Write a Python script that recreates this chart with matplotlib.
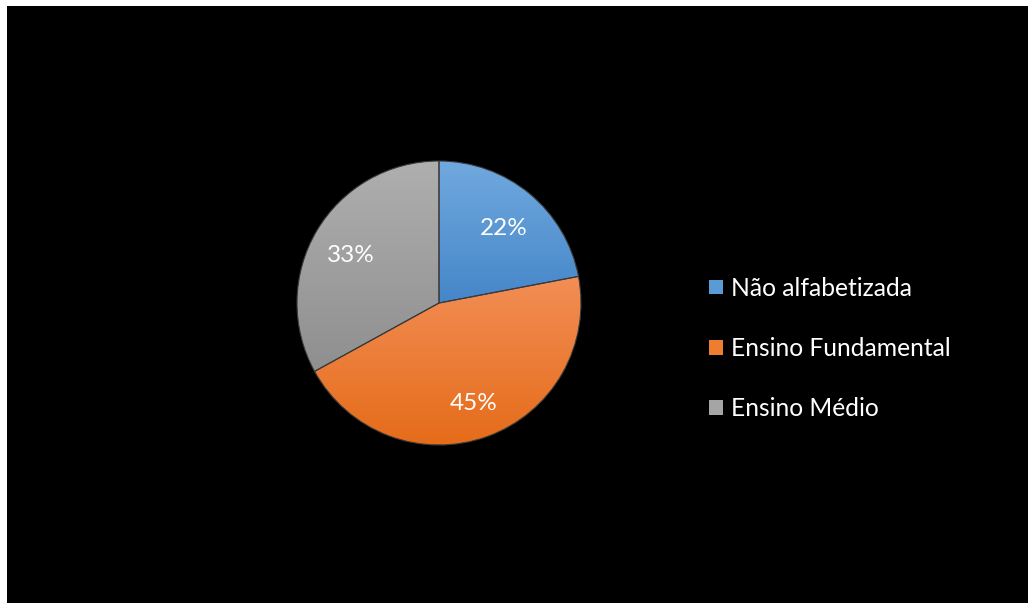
import matplotlib
matplotlib.use("Agg")
import matplotlib.pyplot as plt
import numpy as np
from matplotlib.patches import Patch, Rectangle

categories = ["Não alfabetizada", "Ensino Fundamental", "Ensino Médio"]
values = [22, 45, 33]
top_colors = ["#70a9de", "#f28e56", "#afafaf"]
bottom_colors = ["#4586c9", "#e56b18", "#8f8f8f"]
legend_colors = ["#5b9bd5", "#ed7d31", "#a5a5a5"]

plt.rcParams['font.family'] = ['Lato', 'DejaVu Sans']

W, H = 1028, 603
fig = plt.figure(figsize=(W/100, H/100), dpi=100)
fig.patch.set_facecolor("white")
fig.add_artist(Rectangle((7/W, 0), 1, 1 - 6/H, transform=fig.transFigure,
                         facecolor="black", edgecolor="none", zorder=0))

cx, cy, r = 439, 303, 142
ax = fig.add_axes([(cx - r)/W, (H - cy - r)/H, 2*r/W, 2*r/H])
ax.set_facecolor("none")
ax.patch.set_alpha(0)

wedges, texts, autotexts = ax.pie(values, startangle=90, counterclock=False,
                                  colors=legend_colors, autopct='%1.0f%%',
                                  pctdistance=0.72, radius=1,
                                  wedgeprops=dict(edgecolor="#3a3a3a", linewidth=0.8),
                                  textprops=dict(color="white", fontsize=17.5))

def hex2rgb(h):
    h = h.lstrip('#')
    return np.array([int(h[i:i+2], 16)/255 for i in (0, 2, 4)])

for w, tc, bc in zip(wedges, top_colors, bottom_colors):
    path = w.get_path()
    verts = w.get_transform().transform(path.vertices)
    inv = ax.transData.inverted().transform(verts)
    ymin, ymax = inv[:, 1].min(), inv[:, 1].max()
    xmin, xmax = inv[:, 0].min(), inv[:, 0].max()
    t = np.linspace(0, 1, 256)[:, None]
    grad = (1 - t) * hex2rgb(tc) + t * hex2rgb(bc)
    img = np.repeat(grad[:, None, :], 2, axis=1)
    im = ax.imshow(img, extent=[xmin, xmax, ymin, ymax], origin='upper',
                   aspect='auto', zorder=0.5, interpolation='bilinear')
    im.set_clip_path(w)
    w.set_facecolor("none")
    w.set_zorder(1)
for t in autotexts:
    t.set_zorder(3)
    x, y = t.get_position()
    t.set_position((x, y - 0.03))
ax.set_xlim(-1, 1)
ax.set_ylim(-1, 1)
ax.set_aspect('equal')

handles = [Patch(facecolor=c, edgecolor="none") for c in legend_colors]
leg = fig.legend(handles, categories, loc="center left",
                 bbox_to_anchor=(709/W, 1 - 348.5/H), frameon=False,
                 fontsize=17.7, labelcolor="white", labelspacing=1.52,
                 handlelength=0.55, handleheight=0.55, handletextpad=0.35,
                 borderpad=0, borderaxespad=0)

fig.savefig("out.png", dpi=100, facecolor=fig.get_facecolor())
